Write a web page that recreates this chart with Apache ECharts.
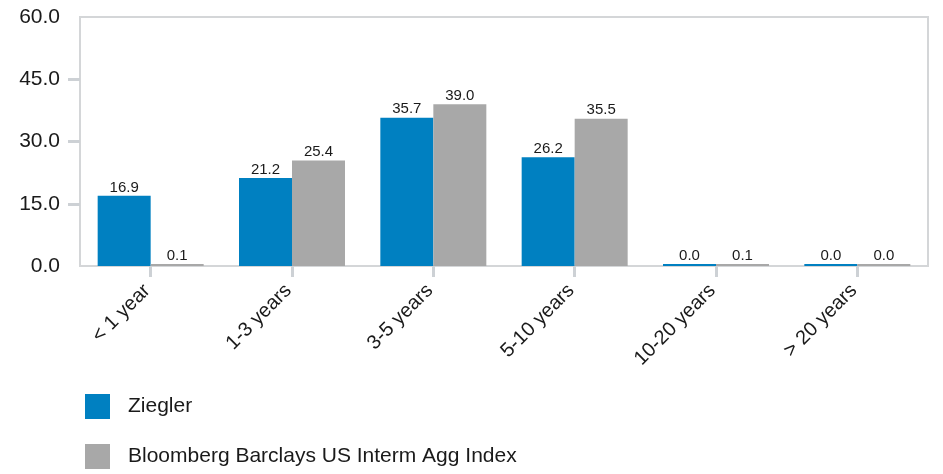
<!DOCTYPE html>
<html>
<head>
<meta charset="utf-8">
<script src="https://cdn.jsdelivr.net/npm/echarts@6/dist/echarts.min.js"></script>
<style>
  html, body { margin: 0; padding: 0; background: #fff; }
  #chart { width: 943px; height: 474px; }
</style>
</head>
<body>
<div id="chart"></div>
<script>
// Maturity buckets and allocation (%) for the portfolio and its benchmark
const categories = ['< 1 year', '1-3 years', '3-5 years', '5-10 years', '10-20 years', '> 20 years'];
const zieglerValues = [16.9, 21.2, 35.7, 26.2, 0.0, 0.0];
const benchmarkValues = [0.1, 25.4, 39.0, 35.5, 0.1, 0.0];
const seriesNames = ['Ziegler', 'Bloomberg Barclays US Interm Agg Index'];
const yTicks = [0, 15, 30, 45, 60];

const FONT = '"Liberation Sans", Arial, sans-serif';
const TEXT = '#1a1a1a';
const FRAME = '#d4d6d8';
const TICK = '#cdd1d5';

const chart = echarts.init(document.getElementById('chart'), null, { renderer: 'canvas' });

const valueLabel = {
  show: true,
  position: 'top',
  distance: 1,
  fontFamily: FONT,
  fontSize: 15,
  color: TEXT,
  formatter: p => Number(p.value).toFixed(1)
};

chart.setOption({
  animation: false,
  backgroundColor: '#ffffff',
  grid: {
    left: 80, right: 15, top: 17, bottom: 208,
    show: true, borderColor: FRAME, borderWidth: 2, backgroundColor: 'transparent'
  },
  legend: {
    orient: 'vertical',
    left: 85, top: 394,
    padding: 0,
    itemWidth: 25, itemHeight: 25, itemGap: 25,
    icon: 'rect',
    data: seriesNames,
    textStyle: { fontFamily: FONT, fontSize: 21, color: TEXT, padding: [0, 0, 0, 13] }
  },
  xAxis: {
    type: 'category',
    data: categories,
    axisLine: { show: true, lineStyle: { color: FRAME, width: 2 } },
    axisTick: { show: true, alignWithLabel: true, length: 11, lineStyle: { color: TICK, width: 3 } },
    axisLabel: {
      rotate: 45, margin: 18, interval: 0,
      padding: [0, 5, 0, 0],
      fontFamily: FONT, fontSize: 20, color: TEXT
    }
  },
  yAxis: {
    type: 'value',
    min: yTicks[0], max: yTicks[yTicks.length - 1], interval: 15,
    splitLine: { show: false },
    axisLine: { show: false },
    axisTick: { show: true, length: 12, customValues: yTicks.slice(1, -1), lineStyle: { color: TICK, width: 3 } },
    axisLabel: {
      margin: 20,
      fontFamily: FONT, fontSize: 21, color: TEXT,
      padding: [6, 0, 0, 0],
      formatter: v => v.toFixed(1)
    }
  },
  series: [
    {
      name: seriesNames[0], type: 'bar', data: zieglerValues,
      barWidth: 53, barGap: '0%', barMinHeight: 2,
      itemStyle: { color: '#0080c1' },
      label: valueLabel
    },
    {
      name: seriesNames[1], type: 'bar', data: benchmarkValues,
      barWidth: 53, barGap: '0%', barMinHeight: 2,
      itemStyle: { color: '#a8a8a8' },
      label: valueLabel
    }
  ]
});
</script>
</body>
</html>
